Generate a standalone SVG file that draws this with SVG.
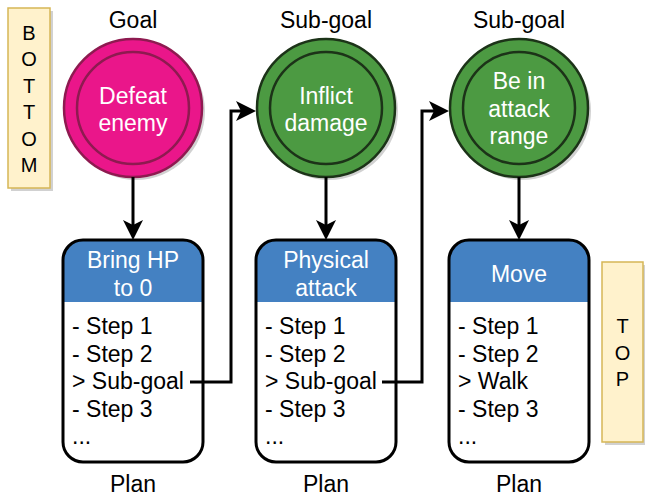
<svg xmlns="http://www.w3.org/2000/svg" width="645" height="498" viewBox="0 0 645 498">
<style>
  text { font-family: "Liberation Sans", Arial, Helvetica, sans-serif; }
  .lbl { font-size: 23px; fill: #000; text-anchor: middle; }
  .in { font-size: 23px; fill: #fff; text-anchor: middle; }
  .lst { font-size: 23px; fill: #000; }
  .side { font-size: 20px; fill: #000; text-anchor: middle; }
  .note { fill: #fff2cc; stroke: #d6b656; stroke-width: 1.5; }
  .shadow { fill: #000; opacity: 0.18; }
  .pink { fill: #ea168a; stroke: #8e1a50; stroke-width: 2.5; }
  .green { fill: #4c9a42; stroke: #1c3318; stroke-width: 2.5; }
  .hdr { fill: #4481c2; }
  .box { fill: none; stroke: #000; stroke-width: 3; }
  .boxbg { fill: #fff; }
  .conn { fill: none; stroke: #000; stroke-width: 3; }
</style>
<defs>
  <marker id="arr" markerUnits="userSpaceOnUse" markerWidth="20" markerHeight="20" viewBox="0 0 20 20" refX="5" refY="10" orient="auto">
    <path d="M0,0 L20,10 L0,20 L5,10 Z" fill="#000"/>
  </marker>
</defs>

<g id="bottom-note">
  <rect class="shadow" x="11" y="11" width="42" height="180"/>
  <rect class="note" x="8" y="8" width="42" height="180"/>
  <text class="side" x="29" y="39.5">B</text>
  <text class="side" x="29" y="66">O</text>
  <text class="side" x="29" y="92.5">T</text>
  <text class="side" x="29" y="119">T</text>
  <text class="side" x="29" y="145.5">O</text>
  <text class="side" x="29" y="172">M</text>
</g>

<g id="top-note">
  <rect class="shadow" x="605" y="265" width="42" height="180"/>
  <rect class="note" x="602" y="262" width="41" height="180"/>
  <text class="side" x="622.5" y="333">T</text>
  <text class="side" x="622.5" y="359.5">O</text>
  <text class="side" x="622.5" y="386">P</text>
</g>

<g id="goal">
  <text class="lbl" x="133" y="28">Goal</text>
  <circle class="shadow" cx="136" cy="111" r="69"/>
  <circle class="pink" cx="133" cy="108" r="69"/>
  <circle class="pink" cx="133" cy="108" r="56"/>
  <text class="in" x="133" y="104">Defeat</text>
  <text class="in" x="133" y="131">enemy</text>
</g>

<g id="subgoal1">
  <text class="lbl" x="326" y="28">Sub-goal</text>
  <circle class="shadow" cx="329" cy="111" r="69"/>
  <circle class="green" cx="326" cy="108" r="69"/>
  <circle class="green" cx="326" cy="108" r="56"/>
  <text class="in" x="326" y="104">Inflict</text>
  <text class="in" x="326" y="131">damage</text>
</g>

<g id="subgoal2">
  <text class="lbl" x="519" y="28">Sub-goal</text>
  <circle class="shadow" cx="522" cy="111" r="69"/>
  <circle class="green" cx="519" cy="108" r="69"/>
  <circle class="green" cx="519" cy="108" r="56"/>
  <text class="in" x="519" y="89">Be in</text>
  <text class="in" x="519" y="116.5">attack</text>
  <text class="in" x="519" y="144">range</text>
</g>

<g id="plan1">
  <rect class="boxbg" x="63" y="240" width="140" height="222" rx="20"/>
  <path class="hdr" d="M63,302 V260 A20,20 0 0 1 83,240 H183 A20,20 0 0 1 203,260 V302 Z"/>
  <rect class="box" x="63" y="240" width="140" height="222" rx="20"/>
  <text class="in" x="133" y="267.5">Bring HP</text>
  <text class="in" x="133" y="295.5">to 0</text>
  <text class="lst" x="72" y="334">- Step 1</text>
  <text class="lst" x="72" y="361.5">- Step 2</text>
  <text class="lst" x="72" y="389">&gt; Sub-goal</text>
  <text class="lst" x="72" y="416.5">- Step 3</text>
  <text class="lst" x="72" y="444">...</text>
  <text class="lbl" x="133" y="492">Plan</text>
</g>

<g id="plan2">
  <rect class="boxbg" x="256" y="240" width="140" height="222" rx="20"/>
  <path class="hdr" d="M256,302 V260 A20,20 0 0 1 276,240 H376 A20,20 0 0 1 396,260 V302 Z"/>
  <rect class="box" x="256" y="240" width="140" height="222" rx="20"/>
  <text class="in" x="326" y="267.5">Physical</text>
  <text class="in" x="326" y="295.5">attack</text>
  <text class="lst" x="265" y="334">- Step 1</text>
  <text class="lst" x="265" y="361.5">- Step 2</text>
  <text class="lst" x="265" y="389">&gt; Sub-goal</text>
  <text class="lst" x="265" y="416.5">- Step 3</text>
  <text class="lst" x="265" y="444">...</text>
  <text class="lbl" x="326" y="492">Plan</text>
</g>

<g id="plan3">
  <rect class="boxbg" x="449" y="240" width="140" height="222" rx="20"/>
  <path class="hdr" d="M449,302 V260 A20,20 0 0 1 469,240 H569 A20,20 0 0 1 589,260 V302 Z"/>
  <rect class="box" x="449" y="240" width="140" height="222" rx="20"/>
  <text class="in" x="519" y="282">Move</text>
  <text class="lst" x="458" y="334">- Step 1</text>
  <text class="lst" x="458" y="361.5">- Step 2</text>
  <text class="lst" x="458" y="389">&gt; Walk</text>
  <text class="lst" x="458" y="416.5">- Step 3</text>
  <text class="lst" x="458" y="444">...</text>
  <text class="lbl" x="519" y="492">Plan</text>
</g>

<g id="connectors">
  <path class="conn" d="M133,177 V225" marker-end="url(#arr)"/>
  <path class="conn" d="M326,177 V225" marker-end="url(#arr)"/>
  <path class="conn" d="M519,177 V225" marker-end="url(#arr)"/>
  <path class="conn" d="M190,382 H231 V111 H241" marker-end="url(#arr)"/>
  <path class="conn" d="M382,382 H422 V111 H434" marker-end="url(#arr)"/>
</g>
</svg>
